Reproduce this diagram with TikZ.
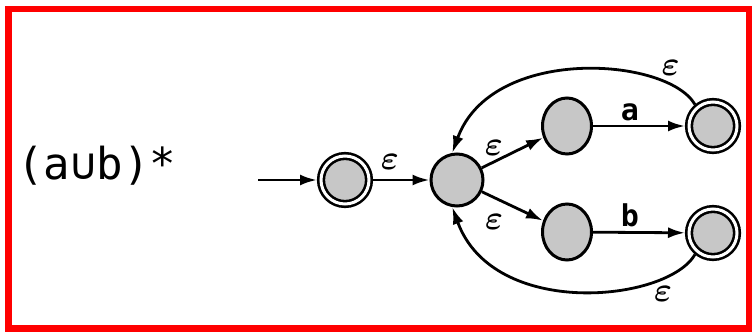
\RequirePackage{fix-cm}
\documentclass[tikz,border=0pt]{standalone}
\usepackage{fontspec}
\newfontfamily\monofont{DejaVu Sans Mono}
\usetikzlibrary{arrows.meta,shapes.geometric}

\begin{document}
\begin{tikzpicture}[
   x=1pt, y=1pt,
   >={Latex[length=17pt,width=11pt]}, line width=2.8pt,
   state/.style={circle,draw,fill=black!22,line width=3pt,
                 minimum size=52pt,inner sep=0pt},
   accept/.style={state,double,double distance=3pt,line width=2.6pt,
                  minimum size=48pt,outer sep=4pt},
   inner/.style={ellipse,draw,fill=black!22,line width=3pt,
                 minimum width=49pt,minimum height=56pt,inner sep=0pt},
   edge/.style={->,line width=2.8pt},
   eps/.style={font=\mathversion{bold}\fontsize{34}{34}\selectfont,inner sep=1pt},
   sym/.style={font=\monofont\bfseries\fontsize{30}{30}\selectfont,inner sep=1pt},
   ]
\useasboundingbox (0,0) rectangle (752,335);
\draw[red,line width=6.5pt] (8.5,6.5) rectangle (749,326);
%% expression
\node[font=\monofont\fontsize{44}{44}\selectfont,anchor=west,inner sep=0pt]
   (expr) at (16,169) {(a∪b)*};
%% states
\coordinate (in) at (258,155);
\node[accept] (s0) at (345,155) {};
\node[state]  (c)  at (457,155) {};
\node[inner]  (u)  at (567,209) {};
\node[inner]  (l)  at (567,103) {};
\node[accept] (fu) at (713,209) {};
\node[accept] (fl) at (713,102) {};
%% transitions
\draw[edge] (in) -- (s0);
\draw[edge] (s0) -- node[eps,pos=0.3,above=8pt] {$\varepsilon$} (c);
\draw[edge] (c) -- node[eps,pos=0.2,above=4pt] {$\varepsilon$} (u);
\draw[edge] (c) -- node[eps,pos=0.2,below=14pt] {$\varepsilon$} (l);
\draw[edge] (u) -- node[sym,pos=0.4,above=3pt] {a} (fu);
\draw[edge] (l) -- node[sym,pos=0.4,above=3pt] {b} (fl);
%% loops back
\draw[edge] (fu.130) .. controls +(120:55) and +(70:115) ..
   node[eps,pos=0.22,above right=1pt] {$\varepsilon$} (c.100);
\draw[edge] (fl.230) .. controls +(240:55) and +(290:120) ..
   node[eps,pos=0.2,below=5pt] {$\varepsilon$} (c.260);
\end{tikzpicture}
\end{document}
